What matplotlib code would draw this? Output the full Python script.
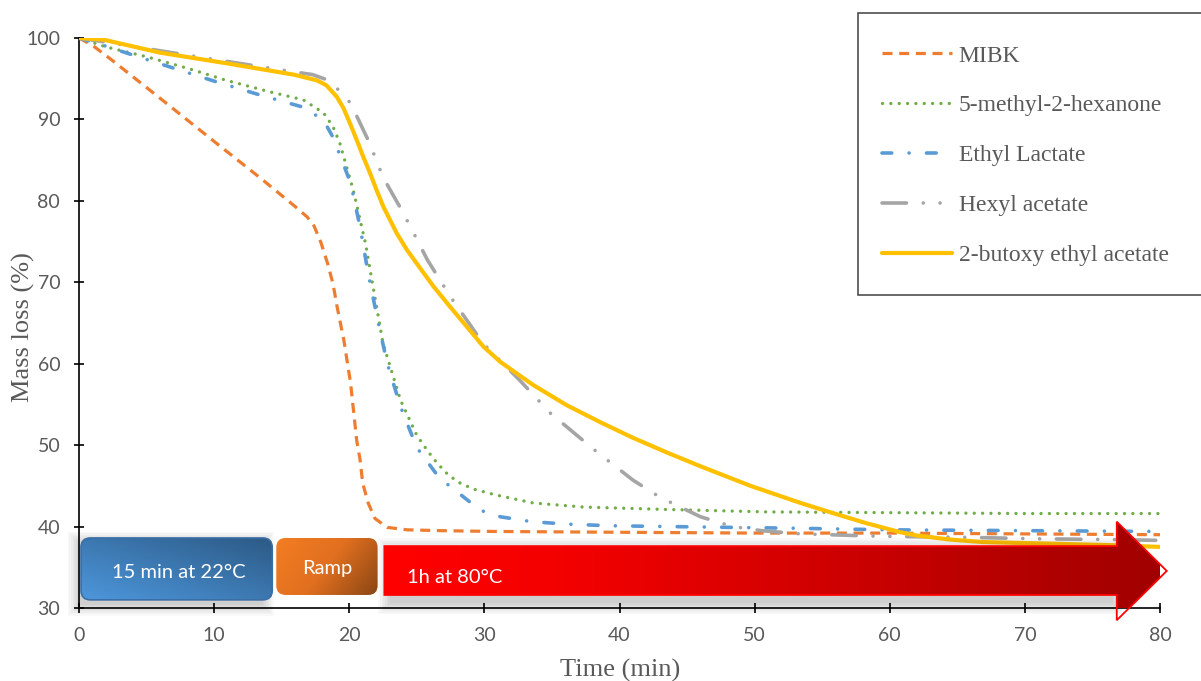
import matplotlib
matplotlib.use('Agg')
import matplotlib.pyplot as plt
import numpy as np
from matplotlib.patches import FancyBboxPatch, Polygon, Rectangle
from matplotlib.colors import LinearSegmentedColormap

plt.rcParams['lines.scale_dashes'] = False

# values (time in min, mass in %)
t_mibk = [0, 1.0, 2.5, 6.0, 10.0, 13.5, 16.0, 16.9, 17.4, 17.9, 18.4, 18.8, 19.1, 19.6, 20.1, 20.55, 20.8, 21.0, 21.4, 21.9, 22.8, 24.3, 26.7, 30.7, 40, 50, 60, 70, 80]
m_mibk = [100, 99.1, 97.2, 92.6, 87.3, 82.7, 79.3, 78.0, 76.9, 74.9, 72.3, 69.8, 67.0, 62.9, 57.6, 50.6, 48.2, 45.3, 42.9, 41.0, 39.9, 39.6, 39.5, 39.4, 39.3, 39.2, 39.2, 39.1, 39.0]

t_mhx = [0, 2.0, 5.0, 8.0, 10.9, 14.1, 16.6, 18.1, 18.8, 19.3, 20.3, 21.2, 21.8, 22.5, 23.8, 25.0, 25.5, 26.2, 27.1, 28.0, 29.2, 30.8, 33.6, 37.3, 43.5, 50.9, 60.8, 70, 80]
m_mhx = [100, 98.9, 97.7, 96.3, 94.8, 93.4, 92.4, 90.8, 89.1, 87.1, 81.3, 74.8, 69.1, 62.5, 55.5, 51.2, 50.0, 48.4, 46.7, 45.5, 44.6, 43.9, 42.9, 42.4, 42.1, 41.8, 41.7, 41.6, 41.6]

t_el = [0, 1.8, 4.0, 7.0, 10.2, 13.4, 16.6, 18.1, 18.8, 20.1, 20.8, 21.4, 22.1, 22.8, 23.8, 25.0, 26.7, 27.5, 29.7, 31.2, 33.5, 36.1, 39.3, 46, 52.8, 60, 70, 80]
m_el = [100, 99.1, 97.9, 96.3, 94.6, 93.0, 91.5, 89.9, 87.8, 82.2, 76.8, 71.1, 65.4, 60.1, 54.7, 49.7, 45.9, 44.9, 42.0, 41.2, 40.6, 40.3, 40.1, 39.95, 39.8, 39.6, 39.5, 39.4]

t_hex = [0, 3.5, 8.0, 12.2, 14.9, 17.3, 18.3, 19.1, 20.1, 21.5, 22.5, 24.0, 25.8, 27.5, 29.9, 32.6, 34.9, 38.3, 41.0, 43.0, 46.0, 48.4, 50.5, 53.4, 59.5, 65, 71.1, 76.8, 80]
m_hex = [100, 99.1, 97.9, 96.8, 96.1, 95.5, 94.9, 93.8, 92.0, 87.1, 82.9, 78.5, 72.7, 68.2, 62.5, 58.0, 53.9, 49.2, 45.7, 43.6, 41.2, 40.0, 39.5, 39.1, 38.8, 38.7, 38.5, 38.4, 38.3]

t_bea = [0, 1.8, 6.0, 10.9, 15.9, 17.6, 18.3, 19.07, 19.57, 20.06, 20.55, 21.04, 21.54, 22.03, 22.52, 23.02, 23.52, 24.26, 25.0, 26.23, 27.46, 28.7, 29.93, 31.2, 33.6, 36.1, 38.6, 41.0, 43.5, 46.0, 49.7, 53.4, 55.9, 58.3, 60.8, 62.0, 64.5, 66.9, 71.9, 76.8, 80]
m_bea = [100, 99.8, 98.2, 96.9, 95.5, 94.8, 94.2, 92.8, 91.4, 89.5, 87.5, 85.4, 83.4, 81.3, 79.3, 77.65, 76.0, 74.0, 72.3, 69.5, 67.0, 64.55, 62.1, 60.2, 57.4, 54.9, 52.8, 50.9, 49.1, 47.4, 45.0, 42.9, 41.6, 40.4, 39.3, 38.9, 38.4, 38.1, 37.9, 37.7, 37.5]

labels = ['MIBK', '5-methyl-2-hexanone', 'Ethyl Lactate', 'Hexyl acetate', '2-butoxy ethyl acetate']
x_ticks = [0, 10, 20, 30, 40, 50, 60, 70, 80]
y_ticks = [30, 40, 50, 60, 70, 80, 90, 100]

fig = plt.figure(figsize=(12.01, 6.81), dpi=100)
ax = fig.add_axes([79/1201, 1 - 608/681, 1081/1201, 570/681])

l1, = ax.plot(t_mibk, m_mibk, color='#ED7D31', lw=2.3, ls=(0, (7.2, 4.8)), dash_capstyle='butt', zorder=3)
l2, = ax.plot(t_mhx, m_mhx, color='#70AD47', lw=2.4, ls=(0, (0.01, 6.0)), dash_capstyle='round', zorder=3)
l3, = ax.plot(t_el, m_el, color='#5B9BD5', lw=2.6, ls=(0, (7, 12.5, 0.01, 12.5)), dash_capstyle='round', zorder=3)
l4, = ax.plot(t_hex, m_hex, color='#A5A5A5', lw=2.6, ls=(0, (17.6, 12.1, 0.01, 12.1, 0.01, 12.1)), dash_capstyle='round', zorder=3)
l5, = ax.plot(t_bea, m_bea, color='#FFC000', lw=3.0, solid_capstyle='round', solid_joinstyle='round', zorder=4)

ax.set_xlim(0, 80)
ax.set_ylim(30, 100)
ax.set_xticks(x_ticks)
ax.set_yticks(y_ticks)
for s in ['top', 'right']:
    ax.spines[s].set_visible(False)
for s in ['left', 'bottom']:
    ax.spines[s].set_linewidth(1.2)
    ax.spines[s].set_color('black')
ax.tick_params(direction='inout', length=7, width=1.2, colors='black', pad=10,
               labelcolor='#595959', labelsize=14)
for lab in ax.get_xticklabels() + ax.get_yticklabels():
    lab.set_family('Lato')

fig.text(23/1201, 1 - 327/681, 'Mass loss (%)', rotation=90, ha='center', va='center',
         family='Liberation Serif', fontsize=19, color='#595959')
fig.text(620/1201, 1 - 670/681, 'Time (min)', ha='center', va='center',
         family='Liberation Serif', fontsize=19, color='#595959')

# legend with its own frame, cut at the right edge
fig.patches.append(Rectangle((858/1201, 1 - 295/681), 400/1201, 282/681, transform=fig.transFigure,
                             facecolor='white', edgecolor='#404040', lw=1.1, zorder=0))
leg = fig.legend([l1, l2, l3, l4, l5], labels, loc='upper left',
                 bbox_to_anchor=(882/1201, 1 - 45/681), bbox_transform=fig.transFigure,
                 frameon=False, borderpad=0, borderaxespad=0, handlelength=2.95,
                 handletextpad=0.3, labelspacing=1.2,
                 prop={'family': 'Liberation Serif', 'size': 17}, labelcolor='#595959')

# stage boxes below the curves
aspect = 13.51 / 8.143


def soft_shadow(x0, y0, w, h, n=8, step=0.12):
    for i in range(n):
        e = step * i
        ax.add_patch(Rectangle((x0 - e, y0 - e * aspect), w + 2 * e, h + 2 * e * aspect,
                               facecolor='black', edgecolor='none', alpha=0.025,
                               clip_on=False, zorder=4))


def gradient_fill(patch, extent, c0, c1):
    cmap = LinearSegmentedColormap.from_list('g', [c0, c1])
    xx, yy = np.meshgrid(np.linspace(0, 1, 200), np.linspace(0, 1, 60))
    im = ax.imshow((xx + yy) / 2, cmap=cmap, extent=extent, origin='lower', aspect='auto',
                   interpolation='bilinear', zorder=patch.get_zorder())
    im.set_clip_path(patch)


soft_shadow(0.0, 30.4, 13.6, 7.6)
soft_shadow(23.0, 30.6, 53.5, 6.6)

blue = FancyBboxPatch((0.15, 31.0), 14.15, 7.6, boxstyle='round,pad=0,rounding_size=0.7',
                      mutation_aspect=aspect, facecolor='none', edgecolor='#3a6ea5', lw=1.2,
                      clip_on=False, zorder=5)
ax.add_patch(blue)
gradient_fill(blue, (0.15, 14.3, 31.0, 38.6), '#4d97dc', '#2c5a86')
blue.set_zorder(6)

orange = FancyBboxPatch((14.6, 31.6), 7.5, 7.0, boxstyle='round,pad=0,rounding_size=0.7',
                        mutation_aspect=aspect, facecolor='none', edgecolor='none',
                        clip_on=False, zorder=5)
ax.add_patch(orange)
cm_o = LinearSegmentedColormap.from_list('o', ['#f47d22', '#e06f1f', '#8a4614'])
xx, yy = np.meshgrid(np.linspace(0, 1, 200), np.linspace(0, 1, 60))
im_o = ax.imshow(xx * 0.7 + (1 - yy) * 0.3, cmap=cm_o, extent=(14.6, 22.1, 31.6, 38.6),
                 origin='lower', aspect='auto', interpolation='bilinear', zorder=5)
im_o.set_clip_path(orange)

arrow = Polygon([(22.6, 37.6), (76.8, 37.6), (76.8, 40.6), (80.5, 34.55),
                 (76.8, 28.5), (76.8, 31.6), (22.6, 31.6)], closed=True,
                facecolor='none', edgecolor='#ff0000', lw=1.3, clip_on=False, zorder=7)
ax.add_patch(arrow)
cm_r = LinearSegmentedColormap.from_list('r', [(0, '#ff0000'), (0.25, '#f20000'), (1, '#a00000')])
im_r = ax.imshow(np.linspace(0, 1, 300)[None, :], cmap=cm_r, extent=(22.6, 80.5, 28.5, 40.6),
                 origin='lower', aspect='auto', interpolation='bilinear', zorder=6)
im_r.set_clip_path(arrow)

ax.text(7.37, 34.4, '15 min at 22°C', ha='center', va='center', color='white',
        family='Lato', fontsize=14.5, zorder=8)
ax.text(18.4, 34.8, 'Ramp', ha='center', va='center', color='white',
        family='Lato', fontsize=14.5, zorder=8)
ax.text(24.3, 33.8, '1h at 80°C', ha='left', va='center', color='white',
        family='Lato', fontsize=14.5, zorder=8)

ax.set_xlim(0, 80)
ax.set_ylim(30, 100)

plt.savefig('out.png', dpi=100)
